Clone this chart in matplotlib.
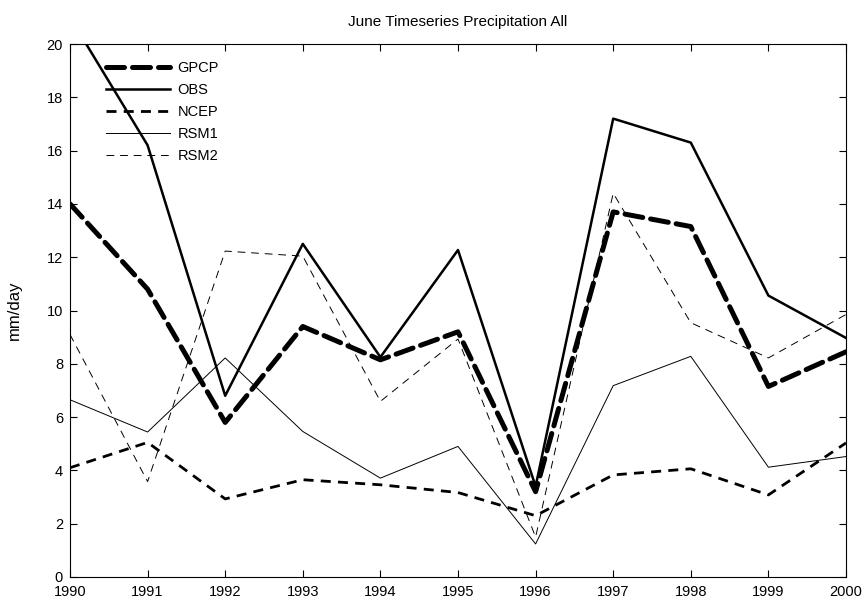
import matplotlib
matplotlib.use("Agg")
import matplotlib.pyplot as plt

plt.rcParams['font.family'] = ['Liberation Sans', 'DejaVu Sans']

years = [1990, 1991, 1992, 1993, 1994, 1995, 1996, 1997, 1998, 1999, 2000]
gpcp = [14.0, 10.8, 5.8, 9.4, 8.15, 9.2, 3.2, 13.7, 13.15, 7.15, 8.45]
obs = [21.0, 16.2, 6.8, 12.5, 8.25, 12.27, 3.4, 17.2, 16.3, 10.56, 8.97]
ncep = [4.1, 5.05, 2.93, 3.65, 3.46, 3.17, 2.3, 3.83, 4.06, 3.08, 5.03]
rsm1 = [6.65, 5.44, 8.22, 5.46, 3.71, 4.9, 1.24, 7.18, 8.28, 4.12, 4.52]
rsm2 = [9.1, 3.58, 12.23, 12.04, 6.59, 8.93, 1.5, 14.4, 9.54, 8.22, 9.85]
yticks = [0, 2, 4, 6, 8, 10, 12, 14, 16, 18, 20]

fig = plt.figure(figsize=(8.66, 6.02), dpi=100)
ax = fig.add_axes([70/866, 1-577/602, (846-70)/866, (577-44)/602])

l1, = ax.plot(years, gpcp, color='black', lw=3.6, label='GPCP')
l1.set_dashes((3.6, 1.6))
l1.set_dash_capstyle('round')
ax.plot(years, obs, color='black', lw=1.8, label='OBS')
l3, = ax.plot(years, ncep, color='black', lw=2.0, label='NCEP')
l3.set_dashes((3.6, 2.6))
ax.plot(years, rsm1, color='black', lw=0.7, label='RSM1')
l5, = ax.plot(years, rsm2, color='black', lw=0.7, label='RSM2')
l5.set_dashes((8, 6))

ax.set_xlim(1990, 2000)
ax.set_ylim(0, 20)
ax.set_xticks(years)
ax.set_xticklabels([str(y) for y in years])
ax.set_yticks(yticks)
ax.set_yticklabels([str(t) for t in yticks])
ax.tick_params(direction='in', top=True, right=True, length=5, width=0.8, labelsize=10.5)
ax.tick_params(axis='x', pad=6)
ax.tick_params(axis='y', pad=5)
for s in ax.spines.values():
    s.set_linewidth(0.8)

ax.set_title('June Timeseries Precipitation All', fontsize=11, pad=13)
ax.set_ylabel('mm/day', fontsize=12, labelpad=18)

leg = ax.legend(loc='upper left', frameon=False, fontsize=10.5, handlelength=4.4,
                handletextpad=0.5, labelspacing=0.55, borderaxespad=0.2,
                bbox_to_anchor=(0.035, 0.985))

fig.savefig('out.png', dpi=100, facecolor='white')
